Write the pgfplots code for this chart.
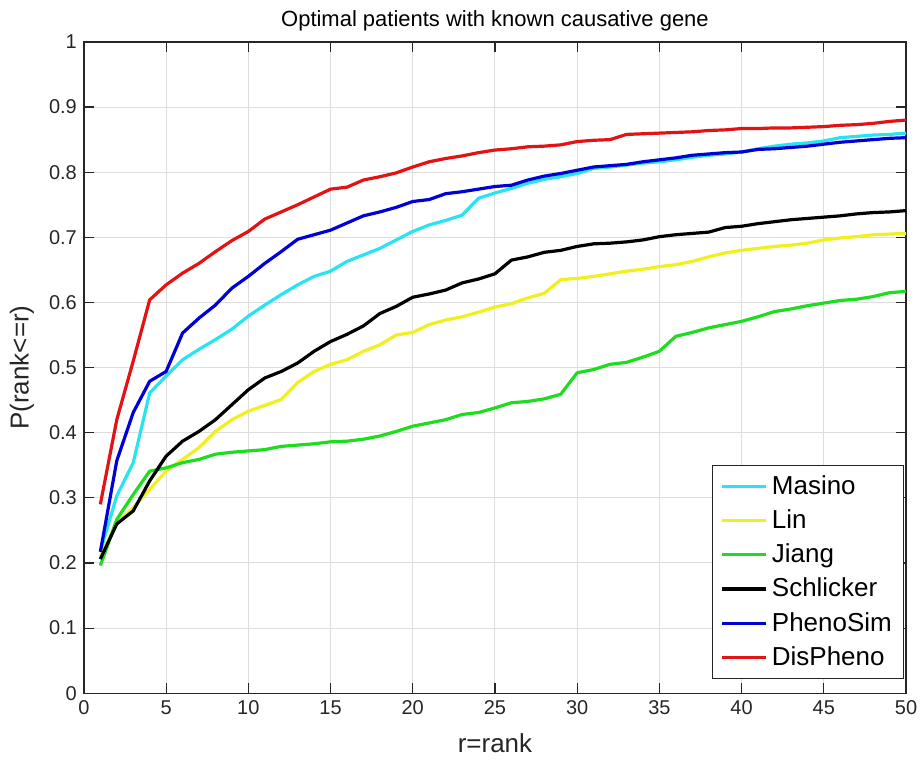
\documentclass[border=0pt]{standalone}
\usepackage{pgfplots}
\pgfplotsset{compat=1.18}
\usepackage{fontspec}
\setmainfont{Liberation Sans}
\definecolor{mcyan}{RGB}{40,228,240}
\definecolor{myellow}{RGB}{240,240,30}
\definecolor{mgreen}{RGB}{30,220,30}
\definecolor{mblue}{RGB}{0,0,215}
\definecolor{mred}{RGB}{228,18,18}
\definecolor{axgray}{RGB}{38,38,38}
\begin{document}
\begin{tikzpicture}
\begin{axis}[
  scale only axis, width=411.5pt, height=326pt,
  xmin=0, xmax=50, ymin=0, ymax=1,
  xtick={0,5,...,50}, ytick={0,0.1,...,1.0},
  yticklabels={0,0.1,0.2,0.3,0.4,0.5,0.6,0.7,0.8,0.9,1},
  /pgf/number format/assume math mode=true,
  tick align=inside, xtick pos=both, ytick pos=both,
  major tick length=5pt,
  grid=major, grid style={line width=0.5pt, draw=black!13},
  axis line style={draw=axgray, line width=0.6pt},
  every tick/.style={draw=axgray, line width=0.6pt},
  tick label style={font=\fontsize{10}{12}\selectfont, text=axgray},
  title={Optimal patients with known causative gene},
  title style={font=\fontsize{11}{13}\selectfont, at={(axis description cs:0.5,1.034)}, anchor=center, yshift=-6.5pt},
  xlabel={r=rank}, ylabel={P(rank<=r)},
  label style={font=\fontsize{13}{15}\selectfont, text=axgray},
  xlabel style={at={(axis description cs:0.5,-0.077)}, anchor=center},
  ylabel style={at={(axis description cs:-0.0753,0.5)}, anchor=center},
  legend cell align=left,
  legend style={at={(rel axis cs:0.998,0.022)}, anchor=south east,
    font=\fontsize{13}{16}\selectfont, draw=axgray, line width=0.6pt,
    inner xsep=4pt, inner ysep=3pt, row sep=2.2pt},
  legend image code/.code={\draw[#1, line width=1.6pt] (0pt,0pt) -- (22pt,0pt);},
  every axis plot/.append style={line width=1.6pt, line join=round},
]
\addplot[mcyan] coordinates {
(1,0.218)(2,0.303)(3,0.354)(4,0.461)(5,0.487)(6,0.512)(7,0.528)(8,0.543)(9,0.559)(10,0.579)
(11,0.596)(12,0.612)(13,0.627)(14,0.640)(15,0.648)(16,0.663)(17,0.673)(18,0.683)(19,0.696)(20,0.709)
(21,0.719)(22,0.726)(23,0.734)(24,0.760)(25,0.768)(26,0.775)(27,0.783)(28,0.789)(29,0.793)(30,0.798)
(31,0.806)(32,0.808)(33,0.811)(34,0.814)(35,0.816)(36,0.819)(37,0.823)(38,0.826)(39,0.828)(40,0.831)
(41,0.836)(42,0.840)(43,0.843)(44,0.845)(45,0.848)(46,0.853)(47,0.855)(48,0.857)(49,0.858)(50,0.860)};
\addlegendentry{Masino}
\addplot[myellow] coordinates {
(1,0.210)(2,0.262)(3,0.285)(4,0.313)(5,0.341)(6,0.359)(7,0.377)(8,0.402)(9,0.420)(10,0.433)
(11,0.442)(12,0.451)(13,0.477)(14,0.494)(15,0.505)(16,0.512)(17,0.525)(18,0.535)(19,0.550)(20,0.554)
(21,0.566)(22,0.573)(23,0.578)(24,0.585)(25,0.593)(26,0.598)(27,0.607)(28,0.614)(29,0.635)(30,0.637)
(31,0.640)(32,0.644)(33,0.648)(34,0.651)(35,0.655)(36,0.658)(37,0.663)(38,0.670)(39,0.676)(40,0.680)
(41,0.683)(42,0.686)(43,0.688)(44,0.691)(45,0.696)(46,0.699)(47,0.701)(48,0.704)(49,0.705)(50,0.706)};
\addlegendentry{Lin}
\addplot[mgreen] coordinates {
(1,0.196)(2,0.267)(3,0.305)(4,0.341)(5,0.346)(6,0.354)(7,0.359)(8,0.367)(9,0.370)(10,0.372)
(11,0.374)(12,0.379)(13,0.381)(14,0.383)(15,0.386)(16,0.387)(17,0.390)(18,0.395)(19,0.402)(20,0.410)
(21,0.415)(22,0.420)(23,0.428)(24,0.431)(25,0.438)(26,0.446)(27,0.448)(28,0.452)(29,0.459)(30,0.492)
(31,0.497)(32,0.505)(33,0.508)(34,0.516)(35,0.525)(36,0.548)(37,0.554)(38,0.561)(39,0.566)(40,0.571)
(41,0.578)(42,0.586)(43,0.590)(44,0.595)(45,0.599)(46,0.603)(47,0.605)(48,0.609)(49,0.615)(50,0.617)};
\addlegendentry{Jiang}
\addplot[black] coordinates {
(1,0.206)(2,0.260)(3,0.280)(4,0.326)(5,0.364)(6,0.387)(7,0.402)(8,0.420)(9,0.443)(10,0.466)
(11,0.484)(12,0.494)(13,0.507)(14,0.525)(15,0.540)(16,0.551)(17,0.564)(18,0.583)(19,0.594)(20,0.608)
(21,0.613)(22,0.619)(23,0.630)(24,0.636)(25,0.644)(26,0.665)(27,0.670)(28,0.677)(29,0.680)(30,0.686)
(31,0.690)(32,0.691)(33,0.693)(34,0.696)(35,0.701)(36,0.704)(37,0.706)(38,0.708)(39,0.715)(40,0.717)
(41,0.721)(42,0.724)(43,0.727)(44,0.729)(45,0.731)(46,0.733)(47,0.736)(48,0.738)(49,0.739)(50,0.741)};
\addlegendentry{Schlicker}
\addplot[mblue] coordinates {
(1,0.217)(2,0.357)(3,0.431)(4,0.479)(5,0.494)(6,0.553)(7,0.576)(8,0.596)(9,0.622)(10,0.640)
(11,0.660)(12,0.678)(13,0.697)(14,0.704)(15,0.711)(16,0.722)(17,0.733)(18,0.739)(19,0.746)(20,0.755)
(21,0.758)(22,0.767)(23,0.770)(24,0.774)(25,0.778)(26,0.780)(27,0.788)(28,0.794)(29,0.798)(30,0.803)
(31,0.808)(32,0.810)(33,0.812)(34,0.816)(35,0.819)(36,0.822)(37,0.826)(38,0.828)(39,0.830)(40,0.831)
(41,0.835)(42,0.836)(43,0.838)(44,0.840)(45,0.843)(46,0.846)(47,0.848)(48,0.850)(49,0.852)(50,0.853)};
\addlegendentry{PhenoSim}
\addplot[mred] coordinates {
(1,0.290)(2,0.420)(3,0.510)(4,0.604)(5,0.627)(6,0.645)(7,0.660)(8,0.678)(9,0.695)(10,0.709)
(11,0.728)(12,0.739)(13,0.750)(14,0.762)(15,0.774)(16,0.777)(17,0.788)(18,0.793)(19,0.799)(20,0.808)
(21,0.816)(22,0.821)(23,0.825)(24,0.830)(25,0.834)(26,0.836)(27,0.839)(28,0.840)(29,0.842)(30,0.847)
(31,0.849)(32,0.850)(33,0.858)(34,0.859)(35,0.860)(36,0.861)(37,0.862)(38,0.864)(39,0.865)(40,0.867)
(41,0.867)(42,0.868)(43,0.868)(44,0.869)(45,0.870)(46,0.872)(47,0.873)(48,0.875)(49,0.878)(50,0.880)};
\addlegendentry{DisPheno}
\end{axis}
\pgfresetboundingbox
\path[use as bounding box] (-42pt,-34.5pt) rectangle (419.5pt,347pt);
\end{tikzpicture}
\end{document}
